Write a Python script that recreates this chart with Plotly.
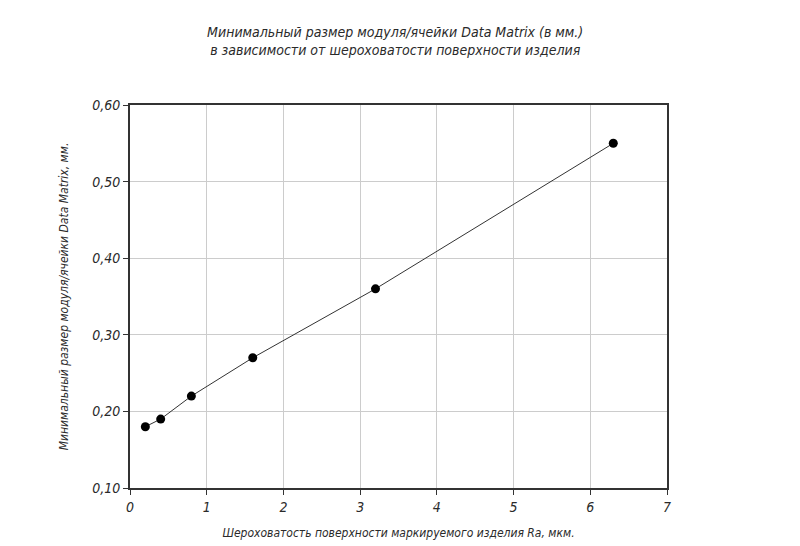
import plotly.graph_objects as go

roughness = [0.2, 0.4, 0.8, 1.6, 3.2, 6.3]
module_size = [0.18, 0.19, 0.22, 0.27, 0.36, 0.55]
y_ticks = [0.10, 0.20, 0.30, 0.40, 0.50, 0.60]
y_tick_labels = ["0,10", "0,20", "0,30", "0,40", "0,50", "0,60"]
x_ticks = [0, 1, 2, 3, 4, 5, 6, 7]

title_text = ("Минимальный размер модуля/ячейки Data Matrix (в мм.)<br>"
              "в зависимости от шероховатости поверхности изделия")
x_title = "Шероховатость поверхности маркируемого изделия Ra, мкм."
y_title = "Минимальный размер модуля/ячейки Data Matrix, мм."

FONT = "Liberation Sans Narrow, DejaVu Sans Condensed, Arial Narrow, sans-serif"
TXT = "#2a2a2a"

fig = go.Figure()
fig.add_trace(go.Scatter(
    x=roughness, y=module_size, mode="lines+markers",
    line=dict(color="#333333", width=1),
    marker=dict(color="black", size=9),
    showlegend=False,
))

fig.update_layout(
    width=800, height=546,
    margin=dict(l=130, r=133, t=105, b=58),
    paper_bgcolor="white", plot_bgcolor="white",
    font=dict(family=FONT, color=TXT, style="italic"),
    title=dict(text=title_text, x=0.494, xanchor="center", y=0.933, yanchor="top",
               font=dict(family=FONT, size=14, color=TXT, style="italic")),
)
fig.update_xaxes(
    range=[0, 7], tickvals=x_ticks, ticktext=[str(v) for v in x_ticks],
    showgrid=True, gridcolor="#cccccc", gridwidth=1,
    showline=True, linecolor="#333333", linewidth=2, mirror=True,
    ticks="outside", ticklen=5, tickcolor="#333333",
    tickfont=dict(family=FONT, size=14, color=TXT, style="italic"),
    title=dict(text=x_title, standoff=15,
               font=dict(family=FONT, size=12, color=TXT, style="italic")),
    zeroline=False, automargin=False,
)
fig.update_yaxes(
    range=[0.10, 0.60], tickvals=y_ticks, ticktext=y_tick_labels,
    showgrid=True, gridcolor="#cccccc", gridwidth=1,
    showline=True, linecolor="#333333", linewidth=2, mirror=True,
    ticks="outside", ticklen=5, tickcolor="#333333",
    tickfont=dict(family=FONT, size=14, color=TXT, style="italic"),
    title=dict(text=y_title, standoff=21,
               font=dict(family=FONT, size=12, color=TXT, style="italic")),
    zeroline=False, automargin=False,
)

fig.write_html("out.html")
